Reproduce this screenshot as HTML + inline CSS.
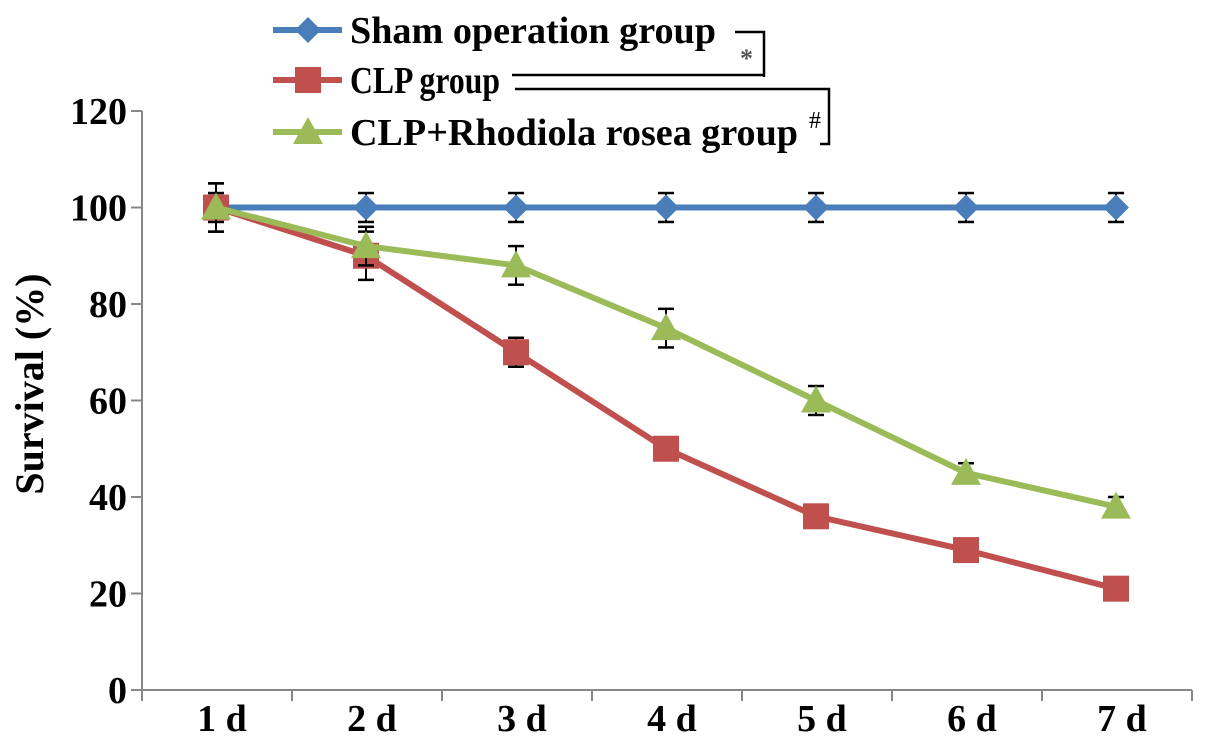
<!DOCTYPE html>
<html><head><meta charset="utf-8"><style>
body{margin:0;background:#fff;}
svg{display:block;font-family:"Liberation Serif",serif;font-weight:bold;}
</style></head><body>
<svg id="c" width="1205" height="743"></svg>
<script>
const categories=["1 d","2 d","3 d","4 d","5 d","6 d","7 d"];
const yTicks=[0,20,40,60,80,100,120];
const shamVals=[100,100,100,100,100,100,100];
const shamErr=[3,3,3,3,3,3,3];
const clpVals=[100,90,70,50,36,29,21];
const clpErr=[5,5,3,2,2,2,2];
const rrVals=[100,92,88,75,60,45,38];
const rrErr=[5,4,4,4,3,2,2];
const NS="http://www.w3.org/2000/svg";
const svg=document.getElementById('c');
function X(i){return 216+i*150;}
function Y(v){return 690-v*(690-111)/120;}
function mk(t,a,p){const e=document.createElementNS(NS,t);for(const k in a)e.setAttribute(k,a[k]);(p||svg).appendChild(e);return e;}
let ax=mk('line',{x1:142,y1:111,x2:142,y2:690,stroke:'#888','stroke-width':2});


let bx=mk('line',{x1:141,y1:690,x2:1192,y2:690,stroke:'#888','stroke-width':2});


yTicks.forEach(v=>{
 mk('line',{x1:131,y1:Y(v),x2:142,y2:Y(v),stroke:'#888','stroke-width':2});
 const t=mk('text',{x:127,y:Y(v)+13,'text-anchor':'end','font-size':38});t.textContent=v;
 
 
});
for(let i=0;i<=categories.length;i++){mk('line',{x1:142+i*150,y1:690,x2:142+i*150,y2:701,stroke:'#888','stroke-width':2});}
categories.forEach((c,i)=>{
 const t=mk('text',{x:X(i)+6,y:731,'text-anchor':'middle','font-size':38});t.textContent=c;
 
 
});
const yt=mk('text',{transform:'translate(43,384) rotate(-90)','text-anchor':'middle','font-size':40});yt.textContent='Survival (%)';


function marker(type,x,y,col,g){
 if(type==='d')return mk('polygon',{points:`${x},${y-13} ${x+13},${y} ${x},${y+13} ${x-13},${y}`,fill:col},g);
 if(type==='s')return mk('rect',{x:x-13,y:y-13,width:26,height:26,fill:col},g);
 return mk('polygon',{points:`${x},${y-15} ${x+15},${y+12} ${x-15},${y+12}`,fill:col},g);
}
function series(vals,err,col,type,name){
 const g=mk('g',{});
 
 
 vals.forEach((v,i)=>{
  const x=X(i),y1=Y(v+err[i]),y2=Y(v-err[i]);
  mk('line',{x1:x,y1:y1,x2:x,y2:y2,stroke:'#000','stroke-width':2},g);
  mk('line',{x1:x-8,y1:y1,x2:x+8,y2:y1,stroke:'#000','stroke-width':2.5},g);
  mk('line',{x1:x-8,y1:y2,x2:x+8,y2:y2,stroke:'#000','stroke-width':2.5},g);
 });
 mk('polyline',{points:vals.map((v,i)=>X(i)+','+Y(v)).join(' '),fill:'none',stroke:col,'stroke-width':6},g);
 vals.forEach((v,i)=>{const m=marker(type,X(i),Y(v),col,g);
  
  });
}
series(shamVals,shamErr,'#4a7ebb','d','sham-series');
series(clpVals,clpErr,'#c0504d','s','clp-series');
series(rrVals,rrErr,'#9bbb59','t','rhodiola-series');
const leg=[["Sham operation group",'#4a7ebb','d',30,366],["CLP group",'#c0504d','s',80,150],["CLP+Rhodiola rosea group",'#9bbb59','t',132,448]];
leg.forEach(l=>{
 const g=mk('g',{});
 
 
 mk('line',{x1:273,y1:l[3],x2:342,y2:l[3],stroke:l[1],'stroke-width':6},g);
 marker(l[2],308,l[3],l[1],g);
 const t=mk('text',{x:350,y:l[3]+13,'font-size':38,textLength:l[4],lengthAdjust:'spacingAndGlyphs'},g);t.textContent=l[0];
});
const br=mk('g',{stroke:'#000','stroke-width':2.5,fill:'none'});


mk('polyline',{points:'735,32 764,32 764,77'},br);
mk('line',{x1:512,y1:75,x2:764,y2:75},br);
mk('polyline',{points:'515,89 829,89 829,144 820,144'},br);
const s1=mk('text',{x:740,y:67,'font-size':26,fill:'#555'});s1.textContent='*';


const s2=mk('text',{x:809,y:128,'font-size':24,'font-weight':'normal'});s2.textContent='#';


</script>
</body></html>
